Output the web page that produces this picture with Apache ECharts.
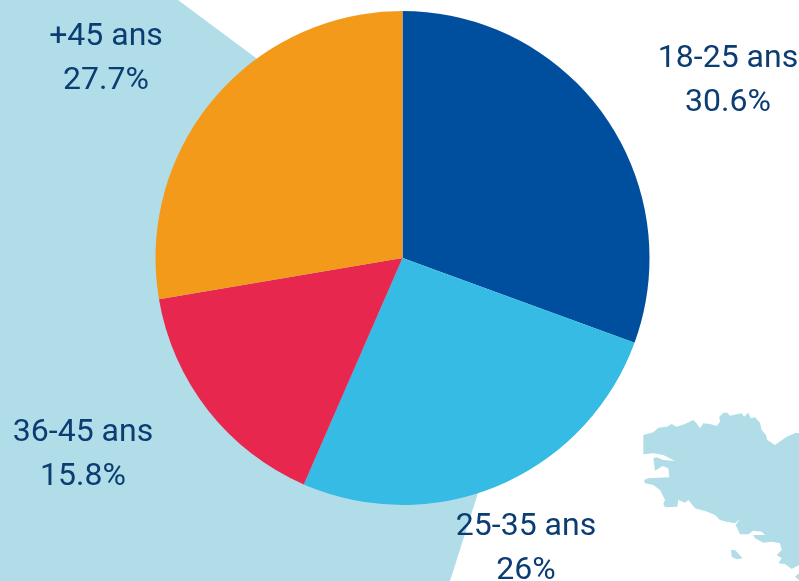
<!DOCTYPE html>
<html><head><meta charset="utf-8">
<style>html,body{margin:0;padding:0;background:#fff}#c{width:799px;height:581px}</style>
<script src="https://cdn.jsdelivr.net/npm/echarts@6/dist/echarts.min.js"></script>
</head><body><div id="c"></div>
<script>
const categories = ['18-25 ans','25-35 ans','36-45 ans','+45 ans'];
const values = [30.6,26,15.8,27.7];
const colors = ['#004f9f','#35bbe4','#e8274f','#f39a1b'];
const labelCentres = {'18-25 ans':[728,80],'25-35 ans':[526,548],'36-45 ans':[83,454],'+45 ans':[106,58]};

const mapOutline = [[70,105],[100,97],[115,83],[140,80],[155,72],[170,80],[195,72],[220,60],[230,70],[240,85],[250,70],[270,72],[290,78],[300,65],[298,50],[310,38],[322,38],[330,47],[365,40],[372,50],[385,38],[392,55],[405,52],[420,68],[425,90],[438,105],[442,120],[465,135],[500,110],[528,98],[537,100],[537,495],[515,507],[495,492],[475,490],[485,475],[470,465],[485,450],[480,430],[455,425],[430,428],[405,415],[400,405],[435,405],[425,395],[400,392],[385,403],[360,403],[347,375],[360,357],[345,370],[320,365],[300,360],[285,345],[262,335],[225,325],[205,300],[195,308],[175,300],[172,320],[135,322],[130,312],[135,300],[120,270],[100,255],[75,250],[72,240],[85,235],[148,232],[145,205],[128,198],[105,212],[100,175],[110,172],[130,180],[165,183],[130,165],[100,160],[70,163]];
const mapIsland = [[333,450],[345,450],[368,475],[350,478],[335,470]];
const mapCorner = [[537,520],[525,530],[537,540]];
const toPage = pts => pts.map(p => [620 + p[0]/3, 400 + p[1]/3]);
const pale = '#b0dde8';

const chart = echarts.init(document.getElementById('c'), null, {renderer:'canvas'});
chart.setOption({
  animation:false,
  graphic:{elements:[
    {type:'polygon',z:-10,shape:{points:[[0,0],[178,0],[256,58],[400,258],[478,493],[450,581],[0,581]]},style:{fill:pale}},
    {type:'polygon',z:-10,shape:{points:toPage(mapOutline)},style:{fill:pale}},
    {type:'polygon',z:-10,shape:{points:toPage(mapIsland)},style:{fill:pale}},
    {type:'polygon',z:-10,shape:{points:toPage(mapCorner)},style:{fill:pale}}
  ]},
  series:[{
    type:'pie',
    center:[402.5,258],
    radius:[0,247],
    startAngle:90,
    clockwise:true,
    z:5,
    itemStyle:{borderWidth:0},
    label:{show:true,position:'outside',overflow:'none',formatter:'{b}\n{c}%',fontFamily:'Roboto',fontSize:32,lineHeight:44,color:'#0b3c72',align:'center',verticalAlign:'middle'},
    labelLine:{show:false},
    labelLayout:p=>{
      const c = labelCentres[categories[p.dataIndex]];
      return {x:c[0],y:c[1]+1,align:'center',verticalAlign:'middle'};
    },
    emphasis:{disabled:true},
    data:categories.map((n,i)=>({name:n,value:values[i],itemStyle:{color:colors[i]}}))
  }]
});
</script></body></html>
